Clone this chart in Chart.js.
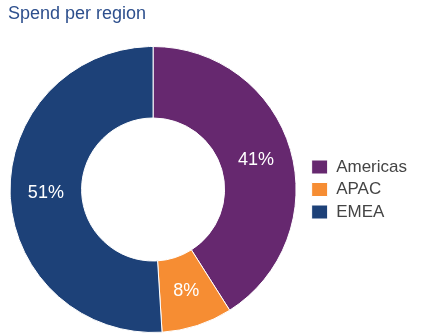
<!DOCTYPE html>
<html><head><meta charset="utf-8">
<script src="https://cdn.jsdelivr.net/npm/chart.js@4/dist/chart.umd.min.js"></script>
<style>html,body{margin:0;padding:0;background:#fff}#wrap{width:421px;height:336px}</style>
</head><body><div id="wrap"><canvas id="c" width="421" height="336"></canvas></div>
<script>
const categories = ["Americas", "APAC", "EMEA"];
const spendShare = [41, 8, 51];
const sliceColors = ["#66286f", "#f68d33", "#1d4178"];
const chartTitle = "Spend per region";

Chart.defaults.font.family = "'Liberation Sans', Arial, sans-serif";

const pctLabels = {
  id: 'pctLabels',
  afterDatasetsDraw(chart) {
    const ctx = chart.ctx;
    const meta = chart.getDatasetMeta(0);
    ctx.save();
    ctx.fillStyle = '#ffffff';
    ctx.font = "18px 'Liberation Sans', Arial, sans-serif";
    ctx.textAlign = 'center';
    ctx.textBaseline = 'middle';
    meta.data.forEach((arc, i) => {
      const p = arc.tooltipPosition();
      ctx.fillText(spendShare[i] + '%', p.x, p.y);
    });
    ctx.restore();
  }
};

const titleText = {
  id: 'titleText',
  afterDraw(chart) {
    const ctx = chart.ctx;
    ctx.save();
    ctx.fillStyle = '#2d4f8d';
    ctx.font = "18px 'Liberation Sans', Arial, sans-serif";
    ctx.textAlign = 'left';
    ctx.textBaseline = 'alphabetic';
    ctx.fillText(chartTitle, 8, 19);
    ctx.restore();
  }
};

new Chart(document.getElementById('c'), {
  type: 'doughnut',
  data: {
    labels: categories,
    datasets: [{
      data: spendShare,
      backgroundColor: sliceColors,
      borderColor: '#ffffff',
      borderWidth: 1
    }]
  },
  options: {
    responsive: false,
    animation: false,
    cutout: '50%',
    layout: { padding: { left: 0, right: 4, top: 46, bottom: 3 } },
    plugins: {
      title: { display: false },
      legend: {
        position: 'right',
        fullSize: false,
        labels: {
          boxWidth: 16,
          boxHeight: 14,
          color: '#444444',
          font: { size: 17 },
          padding: 5.5
        }
      },
      tooltip: { enabled: false }
    }
  },
  plugins: [pctLabels, titleText]
});
</script></body></html>
